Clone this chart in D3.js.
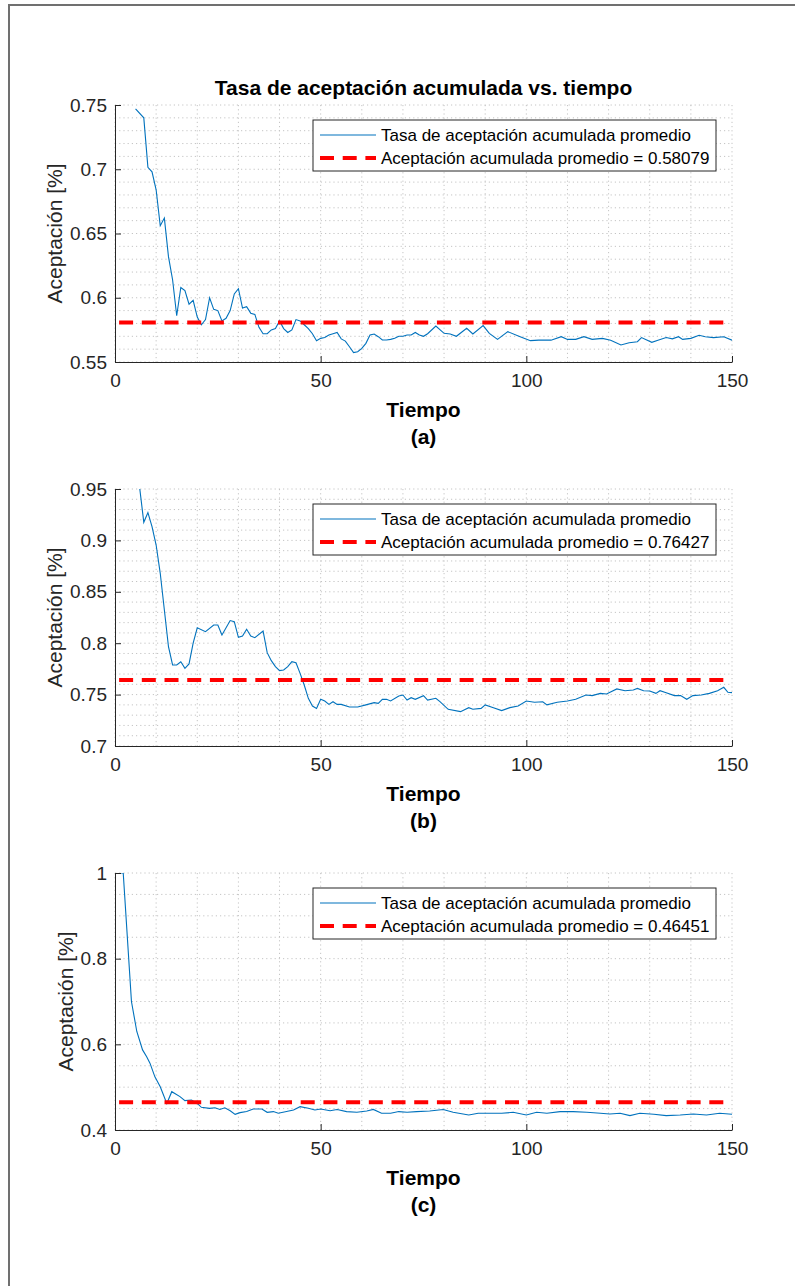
<!DOCTYPE html>
<html lang="es">
<head>
<meta charset="UTF-8">
<title>Tasa de aceptación acumulada vs. tiempo</title>
<script src="https://d3js.org/d3.v7.min.js"></script>
<style>
    body { margin: 0; background: #fff; }
    svg { display: block; font-family: "Liberation Sans", Arial, Helvetica, sans-serif; }
    .grid line { stroke: #c4c4c4; stroke-width: 1; stroke-dasharray: 1.2,3; }
    .axis path, .axis line { stroke: #262626; stroke-width: 1; }
    .axis text { fill: #262626; font-size: 19px; font-family: "Liberation Sans", Arial, sans-serif; }
    .serie { fill: none; stroke: #0072bd; stroke-width: 1.1; }
    .media { fill: none; stroke: #ff0000; stroke-width: 4; stroke-dasharray: 14,8.7; }
    .label { fill: #262626; font-size: 21px; }
    .legend text { fill: #000; font-size: 17px; }
</style>
</head>
<body>
<svg width="795" height="1286"></svg>

<script>
    // ---- data ----
    const xTicks = [0, 50, 100, 150];
    const panelNames = ["(a)", "(b)", "(c)"];
    const meanValues = [0.58079, 0.76427, 0.46451];
    const yDomains = [[0.55, 0.75], [0.7, 0.95], [0.4, 1]];
    const yTicksA = [0.55, 0.6, 0.65, 0.7, 0.75];
    const yTicksB = [0.7, 0.75, 0.8, 0.85, 0.9, 0.95];
    const yTicksC = [0.4, 0.6, 0.8, 1];
    const yMinorStep = [0.01, 0.01, 0.05];

    const serieA = [[5,0.747],[7,0.740],[8,0.7015],[9,0.698],[10,0.684],[11,0.656],[12,0.662],[13,0.632],[14,0.614],[15,0.586],
        [16,0.608],[17,0.6055],[18,0.595],[19,0.598],[20,0.585],[21,0.579],[22,0.583],[23,0.600],[24,0.591],[25,0.590],
        [26,0.582],[27,0.584],[28,0.590],[29,0.603],[30,0.607],[31,0.592],[32,0.593],[33,0.588],[34,0.587],[35,0.577],
        [36,0.572],[37,0.572],[38,0.575],[39,0.576],[40,0.582],[41,0.576],[42,0.573],[43,0.575],[44,0.583],[45,0.582],
        [46,0.579],[47,0.576],[48,0.572],[49,0.5666],[50,0.5684],[51,0.569],[52,0.571],[53,0.572],[54,0.573],[55,0.568],
        [56,0.5663],[57,0.5619],[58,0.5573],[59,0.558],[60,0.5606],[61,0.5645],[62,0.571],[63,0.5718],[64,0.5697],[65,0.5671],
        [66,0.5671],[67,0.5676],[68,0.5684],[69,0.570],[70,0.570],[71,0.571],[72,0.571],[73,0.573],[74,0.571],[75,0.570],
        [76,0.572],[78,0.578],[80,0.5723],[81.5,0.5718],[83,0.570],[85.5,0.5762],[87,0.5718],[89.5,0.5783],[91,0.5723],[93,0.5676],
        [95.5,0.5736],[98.5,0.5697],[101,0.5666],[103,0.567],[106,0.567],[108.5,0.5697],[110,0.5676],[112,0.5676],[114,0.5697],[116,0.5676],
        [118.5,0.5684],[120.5,0.567],[123,0.5632],[125,0.565],[127,0.5658],[128,0.569],[130.5,0.5653],[132,0.567],[134,0.569],[135.5,0.568],
        [137,0.5697],[138,0.5676],[140,0.5684],[142,0.5708],[143.5,0.5697],[145.5,0.569],[148,0.5697],[150,0.567]];

    const serieB = [[6,0.951],[7,0.9176],[8,0.927],[9,0.9134],[10,0.8955],[11,0.868],[12,0.8323],[13,0.7966],[14,0.7788],[15,0.7788],
        [16,0.782],[17,0.7756],[18,0.7798],[19,0.800],[20,0.815],[22,0.8112],[24,0.8177],[25,0.8177],[26,0.808],[28,0.822],
        [29,0.821],[30,0.8057],[31,0.807],[32,0.8135],[33,0.807],[34,0.8054],[36,0.8119],[37,0.7908],[38,0.783],[39,0.7772],
        [40,0.7733],[41,0.774],[42,0.7772],[43,0.782],[44,0.781],[45,0.7707],[46,0.7593],[47,0.7464],[48,0.7389],[49,0.7366],
        [50,0.7454],[51,0.7438],[52,0.7405],[53,0.7431],[54,0.7405],[55,0.7405],[57,0.7379],[59,0.7379],[61,0.740],[63,0.7422],
        [64,0.7415],[65,0.7454],[66,0.7454],[67,0.7438],[69,0.7486],[70,0.7496],[71,0.7447],[72,0.747],[73,0.7454],[75,0.749],
        [76,0.7447],[78,0.7464],[79,0.7431],[81,0.7357],[84,0.7334],[86,0.7373],[87,0.7357],[89,0.7366],[90,0.740],[92,0.7373],
        [94,0.7344],[96,0.7373],[98,0.7389],[100,0.7438],[102,0.7425],[104,0.7431],[105,0.740],[107.5,0.7425],[110,0.7438],[112,0.7454],
        [114.5,0.7496],[116,0.749],[118,0.7512],[119.5,0.7506],[122,0.7555],[124,0.7538],[126,0.7545],[127,0.756],[128.5,0.7538],[130,0.7535],
        [131.5,0.7512],[132.5,0.7538],[134,0.7519],[136,0.749],[137.5,0.749],[139,0.7454],[140.5,0.749],[142.5,0.7496],[144.5,0.7512],[146.5,0.7538],
        [148,0.7571],[149,0.7522],[150,0.7519]];

    const serieC = [[1,1],[2,1],[4,0.70],[5.3,0.63],[6.7,0.587],[7.7,0.571],[8.5,0.556],[9.7,0.524],[11,0.501],[12.6,0.462],
        [13.8,0.4895],[15.8,0.478],[17,0.4685],[18.6,0.470],[20,0.462],[21,0.453],[23,0.4506],[24.3,0.452],[25.5,0.448],[26.7,0.452],
        [28,0.445],[29.2,0.4366],[30.4,0.4405],[32,0.443],[33.6,0.449],[35.7,0.449],[37,0.4413],[38.5,0.443],[39.7,0.439],[41.7,0.443],
        [43.4,0.4467],[45,0.4545],[47,0.4506],[48.6,0.4467],[50,0.449],[52.3,0.445],[54,0.448],[56.3,0.443],[58.8,0.4413],[61.2,0.4444],
        [62.8,0.448],[64.8,0.439],[67,0.439],[69,0.443],[71,0.4413],[73.3,0.443],[76.5,0.4444],[79.8,0.448],[82.2,0.4413],[86,0.435],
        [88.3,0.439],[91.2,0.439],[94,0.439],[96.8,0.4413],[100,0.435],[102.5,0.4413],[105,0.439],[108.2,0.443],[111.4,0.443],[114.7,0.4413],
        [118,0.439],[120.3,0.4374],[122.8,0.439],[125.2,0.4335],[127.6,0.439],[131,0.4366],[134,0.4335],[137.4,0.435],[140.6,0.4374],[143.8,0.435],
        [147,0.439],[150,0.4366]];

    const series = [serieA, serieB, serieC];
    const yTicks = [yTicksA, yTicksB, yTicksC];

    // ---- layout ----
    const svg = d3.select("svg");
    const left = 115, plotW = 617, plotH = 257;
    const tops = [105, 489, 873];

    // outer figure frame (only top and left edges visible)
    svg.append("path")
       .attr("d", "M9,1286V5H795")
       .attr("fill", "none")
       .attr("stroke", "#707070")
       .attr("stroke-width", 2);

    const x = d3.scaleLinear().domain([0, 150]).range([0, plotW]);

    series.forEach((data, i) => {
        const y = d3.scaleLinear().domain(yDomains[i]).range([plotH, 0]);
        const g = svg.append("g").attr("transform", `translate(${left},${tops[i]})`);

        // minor + major grid, dotted
        const grid = g.append("g").attr("class", "grid");
        grid.selectAll("line.gx")
            .data(d3.range(0, 151, 10))
            .join("line").attr("class", "gx")
              .attr("x1", d => x(d)).attr("x2", d => x(d))
              .attr("y1", 0).attr("y2", plotH);
        const n = Math.round((yDomains[i][1] - yDomains[i][0]) / yMinorStep[i]);
        grid.selectAll("line.gy")
            .data(d3.range(0, n + 1).map(k => yDomains[i][0] + k * yMinorStep[i]))
            .join("line").attr("class", "gy")
              .attr("x1", 0).attr("x2", plotW)
              .attr("y1", d => y(d)).attr("y2", d => y(d));

        // clip
        g.append("clipPath").attr("id", "clip" + i)
         .append("rect").attr("width", plotW).attr("height", plotH);

        const line = d3.line().x(d => x(d[0])).y(d => y(d[1]));

        g.append("path")
         .datum(data)
           .attr("class", "serie")
           .attr("clip-path", `url(#clip${i})`)
           .attr("d", line);

        g.append("path")
         .datum([[1, meanValues[i]], [150, meanValues[i]]])
           .attr("class", "media")
           .attr("d", line);

        // axes (box off, ticks inward)
        g.append("g").attr("class", "axis")
         .attr("transform", `translate(0,${plotH})`)
         .call(d3.axisBottom(x).tickValues(xTicks).tickSizeInner(-6).tickSizeOuter(0).tickPadding(12));

        const yAxis = g.append("g").attr("class", "axis")
         .call(d3.axisLeft(y).tickValues(yTicks[i]).tickFormat(d => String(d))
               .tickSizeInner(-6).tickSizeOuter(0).tickPadding(8));

        g.selectAll(".axis .domain").attr("stroke", "#262626");

        // y label placed just left of widest tick label
        let maxW = 0;
        yAxis.selectAll("text").each(function() { maxW = Math.max(maxW, this.getComputedTextLength()); });
        const yLabX = -8 - maxW - 8;
        g.append("text").attr("class", "label")
         .attr("transform", `translate(${yLabX},${plotH / 2}) rotate(-90)`)
         .attr("text-anchor", "middle")
         .text("Aceptación [%]");

        g.append("text").attr("class", "label")
         .attr("x", plotW / 2).attr("y", plotH + 55)
         .attr("text-anchor", "middle").attr("font-weight", "bold")
         .style("fill", "#000")
         .text("Tiempo");

        g.append("text").attr("class", "label")
         .attr("x", plotW / 2).attr("y", plotH + 82)
         .attr("text-anchor", "middle").attr("font-weight", "bold")
         .style("fill", "#000")
         .text(panelNames[i]);

        // legend
        const lg = g.append("g").attr("class", "legend")
                    .attr("transform", `translate(${plotW - 16 - 403},15)`);
        lg.append("rect")
          .attr("width", 403).attr("height", 51)
          .attr("fill", "#fff").attr("stroke", "#262626").attr("stroke-width", 1);
        lg.append("line").attr("class", "serie")
          .attr("x1", 7).attr("x2", 63).attr("y1", 15).attr("y2", 15);
        lg.append("line").attr("class", "media")
          .attr("x1", 7).attr("x2", 63).attr("y1", 38).attr("y2", 38)
          .attr("stroke-dasharray", "12.5,9");
        lg.append("text").attr("x", 68).attr("y", 15).attr("dy", "0.35em")
          .text("Tasa de aceptación acumulada promedio");
        lg.append("text").attr("x", 68).attr("y", 38).attr("dy", "0.35em")
          .text("Aceptación acumulada promedio = " + meanValues[i]);

        if (i === 0) {
            g.append("text")
             .attr("x", plotW / 2).attr("y", -10)
             .attr("text-anchor", "middle")
             .attr("font-size", "21px").attr("font-weight", "bold")
             .text("Tasa de aceptación acumulada vs. tiempo");
        }
    });
</script>
</body>
</html>
